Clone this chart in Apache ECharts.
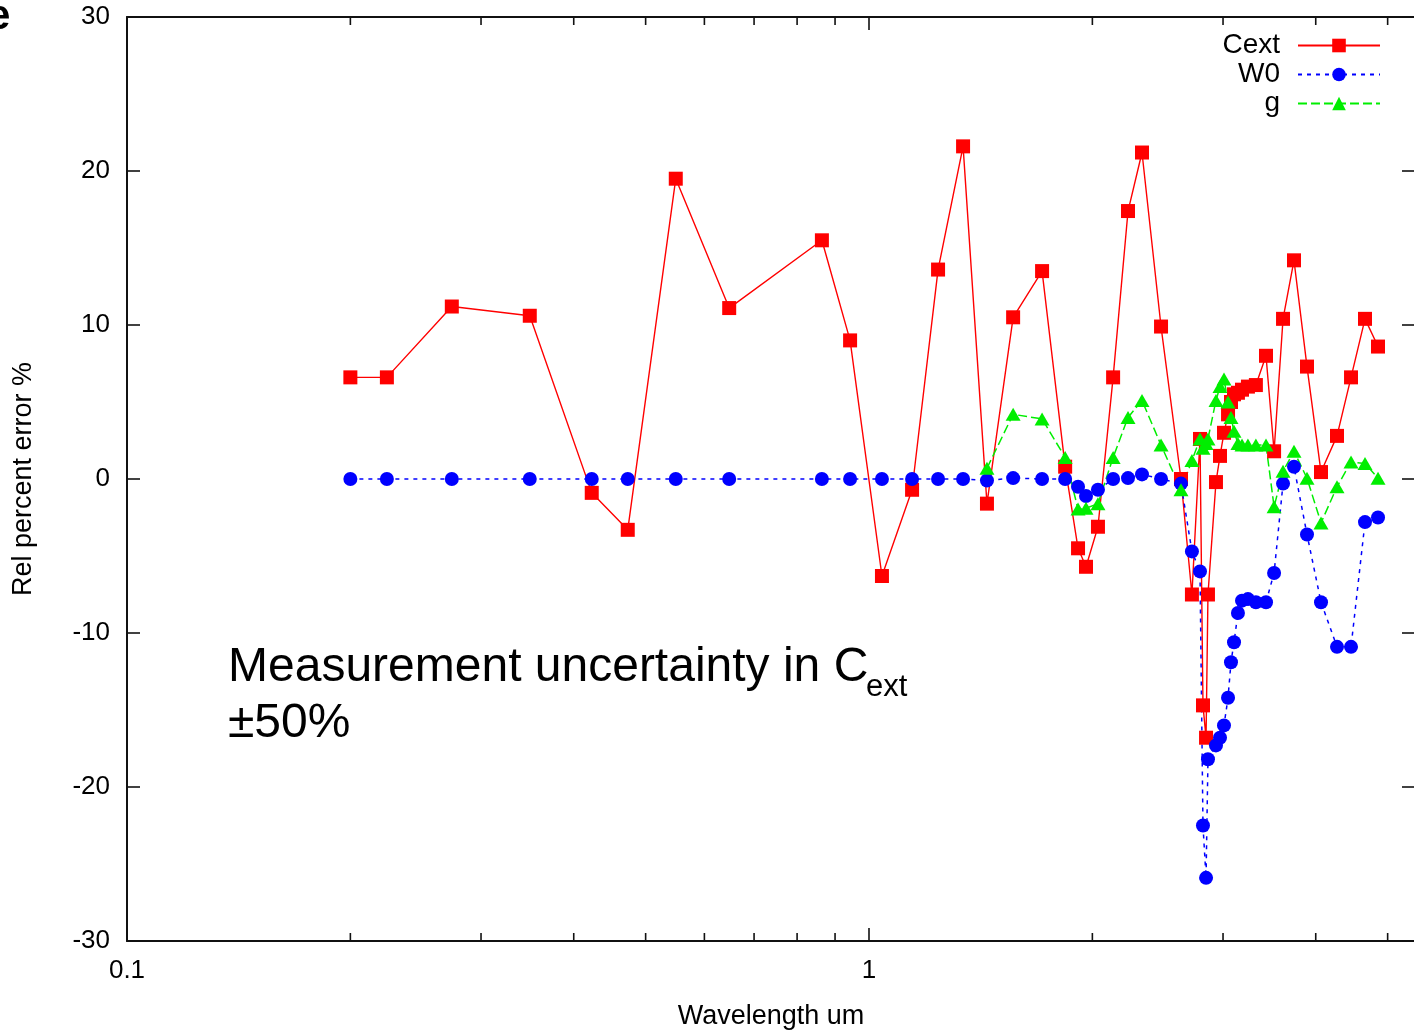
<!DOCTYPE html>
<html>
<head>
<meta charset="utf-8">
<title>Rel percent error</title>
<script src="https://cdn.jsdelivr.net/npm/echarts@6/dist/echarts.min.js"></script>
<style>
  html, body { margin: 0; padding: 0; background: #fff; }
  #chart { width: 1414px; height: 1032px; }
</style>
</head>
<body>
<div id="chart"></div>
<script>
// ---- data ----
var wavelength = [0.200, 0.224, 0.274, 0.349, 0.423, 0.473, 0.549, 0.648, 0.864, 0.943,
                  1.041, 1.143, 1.239, 1.339, 1.442, 1.564, 1.711, 1.838, 1.913, 1.961,
                  2.035, 2.133, 2.234, 2.333, 2.475, 2.633, 2.724, 2.793, 2.819, 2.846,
                  2.863, 2.935, 2.972, 3.009, 3.047, 3.075, 3.104, 3.142, 3.182, 3.241,
                  3.322, 3.428, 3.515, 3.614, 3.739, 3.893, 4.066, 4.273, 4.463, 4.661,
                  4.853];
var cextVals = [6.6, 6.6, 11.2, 10.6, -0.9, -3.3, 19.5, 11.1, 15.5, 9.0,
                -6.3, -0.7, 13.6, 21.6, -1.6, 10.5, 13.5, 0.8, -4.5, -5.7,
                -3.1, 6.6, 17.4, 21.2, 9.9, 0.0, -7.5, 2.6, -14.7, -16.8,
                -7.5, -0.2, 1.5, 3.0, 4.2, 5.0, 5.5, 5.6, 5.8, 6.0,
                6.1, 8.0, 1.8, 10.4, 14.2, 7.3, 0.45, 2.8, 6.6, 10.4,
                8.6];
var w0Vals = [0, 0, 0, 0, 0, 0, 0, 0, 0, 0,
              0, 0, 0, 0, -0.1, 0.06, 0, 0, -0.5, -1.1,
              -0.7, 0, 0.06, 0.3, 0, -0.3, -4.7, -6.0, -22.5, -25.9,
              -18.2, -17.3, -16.8, -16.0, -14.2, -11.9, -10.6, -8.7, -7.9, -7.8,
              -8.0, -8.0, -6.1, -0.3, 0.8, -3.6, -8.0, -10.9, -10.9, -2.8,
              -2.5];
var gVals = [null, null, null, null, null, null, null, null, null, null,
             null, null, null, null, 0.7, 4.2, 3.9, 1.4, -1.95, -1.9,
             -1.6, 1.4, 4.0, 5.1, 2.2, -0.7, 1.2, 2.6, 2.0, 2.3,
             2.6, 5.1, 6.0, 6.5, 5.0, 4.0, 3.1, 2.3, 2.2, 2.2,
             2.2, 2.2, -1.8, 0.5, 1.8, 0.05, -2.85, -0.5, 1.1, 1.0,
             0.05];
var yTicks = [-30, -20, -10, 0, 10, 20, 30];
var xMinorTicks = [0.2, 0.3, 0.4, 0.5, 0.6, 0.7, 0.8, 0.9, 2, 3, 4, 5];

var X_MIN = 0.1, X_MAX = 5.443;
var FONT = '"Liberation Sans", Arial, Helvetica, sans-serif';

function pairs(vals){
    var out = [];
    for (var i = 0; i < wavelength.length; i++) {
        if (vals[i] !== null) out.push([wavelength[i], vals[i]]);
    }
    return out;
}

var myChart = echarts.init(document.getElementById('chart'));

var axisLine = { show: true, onZero: false, lineStyle: { color: '#111', width: 2 } };
var tickIn = { show: true, inside: true, length: 13, lineStyle: { color: '#111', width: 1.6 } };

var option = {
    animation: false,
    backgroundColor: '#fff',
    textStyle: { fontFamily: FONT },
    grid: { left: 127, top: 17, width: 1288, height: 924, containLabel: false, outerBoundsMode: 'none' },
    legend: {
        data: ['Cext', 'W0', 'g'],
        orient: 'vertical',
        align: 'right',
        right: 33,
        top: 31,
        padding: 0,
        itemGap: 0,
        itemWidth: 82,
        itemHeight: 17,
        textStyle: { fontSize: 28, color: '#000', lineHeight: 29, padding: [0, 13, 0, 0], fontFamily: FONT }
    },
    xAxis: [{
        type: 'log',
        logBase: 10,
        min: X_MIN,
        max: X_MAX,
        position: 'bottom',
        name: 'Wavelength um',
        nameLocation: 'middle',
        nameGap: 62,
        nameTextStyle: { fontSize: 27, color: '#000', fontFamily: FONT },
        axisLine: axisLine,
        axisTick: tickIn,
        splitLine: { show: false },
        axisLabel: {
            fontSize: 26, color: '#000', margin: 17, fontFamily: FONT,
            showMaxLabel: false,
            formatter: function(v){ return String(parseFloat(Number(v).toPrecision(6))); }
        }
    }, {
        type: 'log',
        logBase: 10,
        min: X_MIN,
        max: X_MAX,
        position: 'top',
        axisLine: axisLine,
        axisTick: tickIn,
        axisLabel: { show: false },
        splitLine: { show: false }
    }],
    yAxis: [{
        type: 'value',
        min: yTicks[0],
        max: yTicks[yTicks.length - 1],
        interval: 10,
        position: 'left',
        name: 'Rel percent error %',
        nameLocation: 'middle',
        nameGap: 90,
        nameTextStyle: { fontSize: 27, color: '#000', fontFamily: FONT },
        axisLine: axisLine,
        axisTick: tickIn,
        splitLine: { show: false },
        axisLabel: { fontSize: 26, color: '#000', margin: 17, fontFamily: FONT }
    }, {
        type: 'value',
        min: yTicks[0],
        max: yTicks[yTicks.length - 1],
        interval: 10,
        position: 'right',
        axisLine: axisLine,
        axisTick: tickIn,
        axisLabel: { show: false },
        splitLine: { show: false }
    }],
    graphic: [
        { type: 'text', left: -13, top: -4, style: { text: 'e', font: 'bold 42px ' + FONT, fill: '#000' } },
        { type: 'text', left: 228, top: 644, style: { text: 'Measurement uncertainty in C', font: '48px ' + FONT, fill: '#000' } },
        { type: 'text', left: 866, top: 672, style: { text: 'ext', font: '31px ' + FONT, fill: '#000' } },
        { type: 'text', left: 228, top: 700, style: { text: '\u00b150%', font: '48px ' + FONT, fill: '#000' } }
    ],
    series: [
        {//---- Cext
            name: 'Cext',
            type: 'line',
            data: pairs(cextVals),
            symbol: 'rect',
            symbolSize: 14,
            showAllSymbol: true,
            itemStyle: { color: '#ff0000' },
            lineStyle: { color: '#ff0000', width: 1.4, type: 'solid' }
        },
        {//---- W0
            name: 'W0',
            type: 'line',
            data: pairs(w0Vals),
            symbol: 'circle',
            symbolSize: 14,
            showAllSymbol: true,
            itemStyle: { color: '#0000ff' },
            lineStyle: { color: '#0000ff', width: 1.5, type: [4, 5] }
        },
        {//---- g
            name: 'g',
            type: 'line',
            data: pairs(gVals),
            symbol: 'triangle',
            symbolSize: [15, 13],
            showAllSymbol: true,
            itemStyle: { color: '#00ee00' },
            lineStyle: { color: '#00ee00', width: 1.5, type: [9, 4] }
        },
        {//---- minor ticks of the log axis, bottom and top
            type: 'custom',
            silent: true,
            data: xMinorTicks.map(function(v){ return [v, yTicks[0]]; }),
            renderItem: function(params, api){
                var v = api.value(0);
                var b = api.coord([v, yTicks[0]]);
                var t = api.coord([v, yTicks[yTicks.length - 1]]);
                var st = { stroke: '#111', lineWidth: 1.6 };
                return {
                    type: 'group',
                    children: [
                        { type: 'line', shape: { x1: b[0], y1: b[1], x2: b[0], y2: b[1] - 8 }, style: st },
                        { type: 'line', shape: { x1: t[0], y1: t[1], x2: t[0], y2: t[1] + 8 }, style: st }
                    ]
                };
            }
        }
    ]
};

myChart.setOption(option);
</script>
</body>
</html>
